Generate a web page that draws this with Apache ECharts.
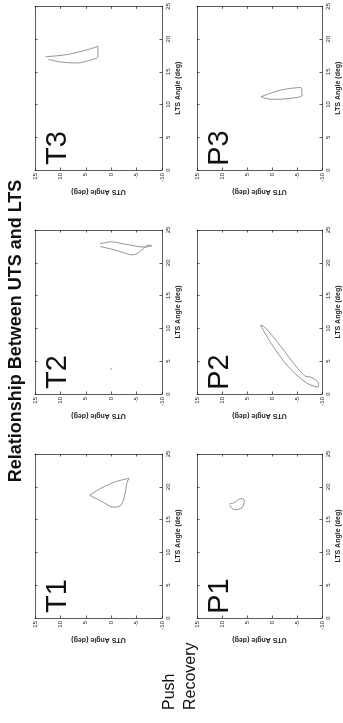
<!DOCTYPE html>
<html>
<head>
<meta charset="utf-8">
<script src="https://cdn.jsdelivr.net/npm/echarts@6/dist/echarts.min.js"></script>
<style>
html, body { margin: 0; padding: 0; background: #fff; }
#chart { width: 343px; height: 723px; }
</style>
</head>
<body>
<div id="chart"></div>
<script>
// UTS on the horizontal screen axis (15 left, -10 right), LTS on the vertical one
var utsRange = [-10, 15];
var ltsRange = [0, 25];

var t1Uts = [4.2, 1.5, -0.4, -1.8, -2.6, -3.1, -3.5, -1.0, 2.0, 4.2];
var t1Lts = [18.7, 17.6, 16.9, 17.1, 18.5, 20.6, 21.3, 20.8, 19.8, 18.7];

var t2Uts = [2.2, -1.0, -4.3, -6.3, -7.3, -8.0, -6.5, -3.0, 0.0, 2.2];
var t2Lts = [22.5, 21.9, 21.2, 22.1, 22.7, 22.6, 22.4, 22.8, 23.2, 22.9];
var t2Dot = [[0.0, 3.8]];

var t3Uts = [12.9, 9.0, 5.0, 2.6, 2.65, 4.5, 6.8, 10.0, 12.4];
var t3Lts = [17.3, 17.6, 18.3, 18.9, 17.3, 16.7, 16.35, 16.5, 16.9];

var p1Uts = [8.5, 7.5, 6.0, 5.5, 6.3, 7.5, 8.5];
var p1Lts = [17.2, 16.5, 16.8, 18.0, 18.2, 17.6, 17.4];

var p2Uts = [2.3, 0.0, -3.1, -6.0, -7.6, -9.2, -9.3, -8.0, -6.5, -4.0, -1.0, 1.5, 2.3];
var p2Lts = [10.5, 7.5, 4.3, 2.2, 1.4, 1.06, 1.6, 2.5, 2.8, 5.0, 8.0, 10.2, 10.5];

var p3Uts = [2.2, -1.7, -5.7, -6.0, -3.0, 0.2, 2.2];
var p3Lts = [11.2, 12.2, 12.6, 11.4, 10.9, 10.8, 11.2];

function zip(a, b) {
	return a.map(function (v, i) { return [v, b[i]]; });
}

var panels = [
	{ label: "T3", uts: t3Uts, lts: t3Lts, left: 35, top: 6 },
	{ label: "T2", uts: t2Uts, lts: t2Lts, left: 35, top: 230, dots: t2Dot },
	{ label: "T1", uts: t1Uts, lts: t1Lts, left: 35, top: 454 },
	{ label: "P3", uts: p3Uts, lts: p3Lts, left: 197, top: 6 },
	{ label: "P2", uts: p2Uts, lts: p2Lts, left: 197, top: 230 },
	{ label: "P1", uts: p1Uts, lts: p1Lts, left: 197, top: 454 }
];

var W = 127, H = 164;
var font = "Liberation Sans";
var frame = { show: true, onZero: false, lineStyle: { color: "#333", width: 0.8 } };
var ticks = { show: true, inside: true, length: 2.5, lineStyle: { color: "#333", width: 0.8 } };

var grids = [], xAxes = [], yAxes = [], series = [], graphics = [];

panels.forEach(function (p, i) {
	grids.push({ left: p.left, top: p.top, width: W, height: H });

	xAxes.push({
		type: "value", gridIndex: i, min: utsRange[0], max: utsRange[1], interval: 5,
		inverse: true, position: "bottom",
		axisLine: frame, axisTick: ticks, splitLine: { show: false },
		axisLabel: { rotate: 90, fontSize: 6, margin: 3, color: "#222", fontFamily: font },
		name: "UTS Angle (deg)", nameLocation: "middle", nameGap: 18, nameRotate: 180,
		nameTextStyle: { fontSize: 7, fontWeight: "bold", color: "#222", fontFamily: font }
	});
	xAxes.push({
		type: "value", gridIndex: i, min: utsRange[0], max: utsRange[1], interval: 5,
		inverse: true, position: "top",
		axisLine: frame, axisTick: ticks, splitLine: { show: false }, axisLabel: { show: false }
	});

	yAxes.push({
		type: "value", gridIndex: i, min: ltsRange[0], max: ltsRange[1], interval: 5,
		position: "right",
		axisLine: frame, axisTick: ticks, splitLine: { show: false },
		axisLabel: { rotate: 90, fontSize: 6, margin: 3, color: "#222", fontFamily: font },
		name: "LTS Angle (deg)", nameLocation: "middle", nameGap: 13, nameRotate: 90,
		nameTextStyle: { fontSize: 7, fontWeight: "bold", color: "#222", fontFamily: font }
	});
	yAxes.push({
		type: "value", gridIndex: i, min: ltsRange[0], max: ltsRange[1], interval: 5,
		position: "left",
		axisLine: frame, axisTick: ticks, splitLine: { show: false }, axisLabel: { show: false }
	});

	series.push({
		type: "line", xAxisIndex: 2 * i, yAxisIndex: 2 * i,
		data: zip(p.uts, p.lts), showSymbol: false, smooth: 0.3,
		lineStyle: { color: "#666", width: 0.7 }, silent: true
	});
	if (p.dots) {
		series.push({
			type: "scatter", xAxisIndex: 2 * i, yAxisIndex: 2 * i,
			data: p.dots, symbolSize: 1.5, itemStyle: { color: "#666" }, silent: true
		});
	}

	graphics.push({
		type: "text", x: p.left + 22.5, y: p.top + H - 22, rotation: Math.PI / 2,
		style: { text: p.label, font: "29px '" + font + "'", fill: "#111", align: "center", verticalAlign: "middle" }
	});
});

graphics.push({
	type: "text", x: 16, y: 331, rotation: Math.PI / 2,
	style: { text: "Relationship Between UTS and LTS", font: "bold 18px '" + font + "'", fill: "#111", align: "center", verticalAlign: "middle" }
});
graphics.push({
	type: "text", x: 170, y: 710, rotation: Math.PI / 2,
	style: { text: "Push", font: "16px '" + font + "'", fill: "#111", align: "left", verticalAlign: "middle" }
});
graphics.push({
	type: "text", x: 191, y: 710, rotation: Math.PI / 2,
	style: { text: "Recovery", font: "16px '" + font + "'", fill: "#111", align: "left", verticalAlign: "middle" }
});

var chart = echarts.init(document.getElementById("chart"));
chart.setOption({
	animation: false,
	grid: grids,
	xAxis: xAxes,
	yAxis: yAxes,
	series: series,
	graphic: graphics
});
</script>
</body>
</html>
